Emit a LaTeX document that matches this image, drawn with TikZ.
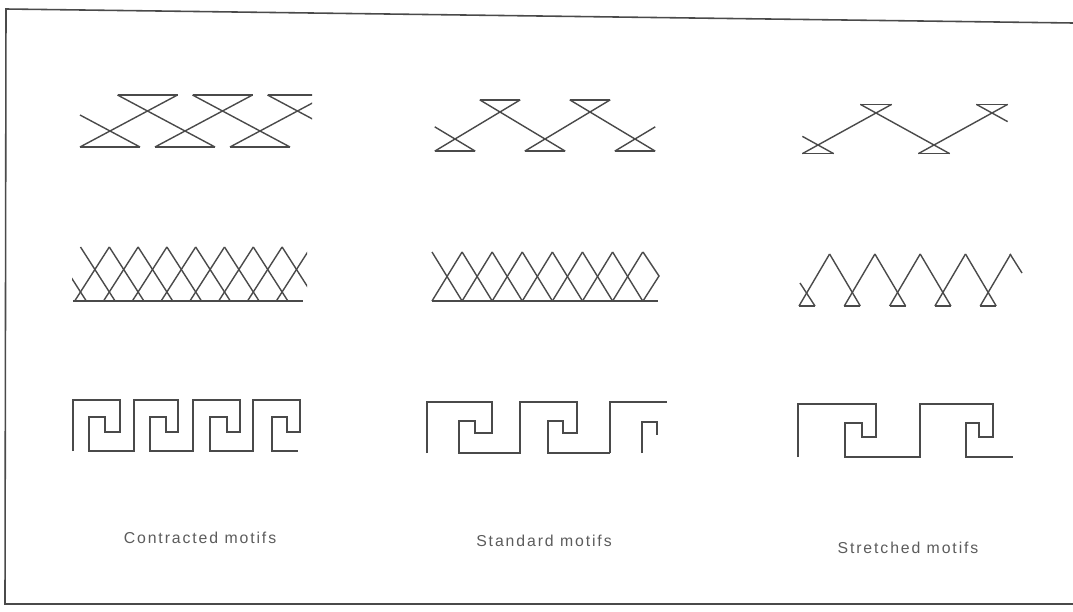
\documentclass[tikz,border=0pt]{standalone}
\usepackage{fontspec}
\usepackage{xcolor}
\usetikzlibrary{calc}
\newfontfamily\lblfont[LetterSpace=12]{Liberation Sans}
\definecolor{Ink}{HTML}{4A4A4A}
\definecolor{Paper}{HTML}{FFFFFF}
\tikzset{
  motif/.style={Ink, line width=0.8pt, line join=miter},
  frame/.style={Ink, line width=0.9pt},
  lbl/.style={text=Ink!90, font=\lblfont\fontsize{9}{10}\selectfont, inner sep=0pt}
}
% hourglass band: #1 first x, #2 step, #3 top y, #4 bottom y, #5 overshoot, #6 last index
\newcommand{\bowband}[6]{
  \pgfmathsetmacro{\bwx}{#5*#2}
  \pgfmathsetmacro{\bwy}{#5*(#4-#3)}
  \draw[motif] (#1-\bwx,#4-\bwy) -- (#1+\bwx,#4+\bwy);
  \foreach \i in {0,...,#6} {
    \pgfmathsetmacro{\vtx}{#1+\i*#2}
    \pgfmathsetmacro{\vty}{isodd(\i) ? #3 : #4}
    \pgfmathsetmacro{\bary}{isodd(\i) ? #3-\bwy : #4+\bwy}
    \draw[motif] (\vtx-\bwx,\bary) -- (\vtx+\bwx,\bary);
    \ifnum\i<#6
      \draw[motif] (\vtx-\bwx,\bary) -- (\vtx+#2+\bwx,#3+#4-\bary);
    \else
      \draw[motif] (\vtx-\bwx,\bary) -- (\vtx+\bwx,2*\vty-\bary);
    \fi
  }
}
% key band: #1 start x, #2 units x0/outer/hook/inner/next, #3 top, #4 hook low, #5 hook high, #6 base
\newcommand{\keyband}[6]{
  \draw[motif] (#1,#6) \foreach \a/\b/\c/\d/\e in {#2} {
    -- (\a,#3) -- (\b,#3) -- (\b,#4) -- (\c,#4) -- (\c,#5) -- (\d,#5) -- (\d,#6) -- (\e,#6)
  };
}

\begin{document}
\begin{tikzpicture}[x=0.02cm, y=-0.02cm]
    \useasboundingbox (0,0) rectangle (1073,612);
    \fill[Paper] (0,0) rectangle (1073,612);
    % frame of the plate
    \draw[frame] (1073,23) -- (6,9) -- (5,604) -- (1073,604);

    % row 1: hourglass bands
    \begin{scope}
      \clip (60,80) rectangle (312,165);
      \bowband{110}{37.5}{111}{131}{0.8}{5}
    \end{scope}
    \bowband{455}{45}{112}{139}{0.45}{4}
    \bowband{818}{58}{113}{145}{0.27}{3}

    % row 2: contracted lattice
    \begin{scope}
      \clip (72,230) rectangle (307,310);
      \foreach \k in {-1,...,7} {
        \pgfmathsetmacro{\xa}{80.5+28.8*\k}
        \draw[motif] (\xa,247) -- (\xa+28.8+5.8,301);
      }
      \foreach \k in {0,...,7} {
        \pgfmathsetmacro{\xa}{80.5+28.8*\k}
        \draw[motif] (\xa-5.8,301) -- (\xa+28.8,247);
      }
      \draw[motif] (73,301) -- (303,301);
    \end{scope}
    % row 2: standard lattice
    \foreach \k in {0,...,6} {
      \pgfmathsetmacro{\xa}{432+30.1*\k}
      \draw[motif] (\xa,252) -- (\xa+30.1,301);
      \draw[motif] (\xa,301) -- (\xa+30.1,252);
    }
    \draw[motif] (643,252) -- (659,276) -- (643,301);
    \draw[motif] (432,301) -- (658,301);
    % row 2: stretched zigzag
    \draw[motif] (800,283) -- (815,306);
    \foreach \k in {0,...,4} {
      \pgfmathsetmacro{\xa}{807+45.3*\k}
      \draw[motif] (\xa-8,306) -- (\xa+8,306);
      \draw[motif] (\xa-8,306) -- (\xa+22.6,254);
      \ifnum\k<4
        \draw[motif] (\xa+22.6,254) -- (\xa+45.3+8,306);
      \fi
    }
    \draw[motif] (1010,254) -- (1022,273);

    % row 3: key bands
    \keyband{73}{73/120/105/89/134, 134/178/166/150/193, 193/240/227/210/253, 253/300/287/272/298}{400}{432}{417}{451}
    \keyband{427}{427/492/475/459/520, 520/577/563/548/610}{402}{433}{421}{453}
    \draw[motif] (610,453) -- (610,402) -- (667,402);
    \draw[motif] (642,453) -- (642,422) -- (657,422) -- (657,435);
    \keyband{798}{798/876/862/845/920, 920/993/979/966/1013}{404}{437}{423}{457}

    % captions
    \node[lbl] (contracted) at (200,538) {Contracted motifs};
    \node[lbl] (standard) at (544,541) {Standard motifs};
    \node[lbl] (stretched) at (908,548) {Stretched motifs};
  \end{tikzpicture}
\end{document}
